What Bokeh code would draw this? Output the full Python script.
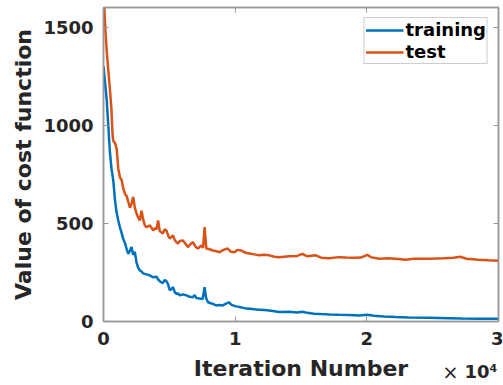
from bokeh.plotting import figure
from bokeh.models import Range1d, LinearAxis, FixedTicker, Title, Legend, LegendItem
from bokeh.embed import file_html
from bokeh.resources import INLINE

# ---- data ----
train_iter = [0, 242, 380, 490, 605, 740, 870, 985, 1120, 1250, 1380, 1500, 1630, 1755, 1880,
              2005, 2130, 2255, 2380, 2510, 2630, 2760, 2890, 3010, 3270, 3520, 3770, 4025, 4145,
              4275, 4500, 4650, 4780, 4900, 5030, 5160, 5280, 5410, 5540, 5660, 5790, 6040, 6290,
              6540, 6790, 6920, 7050, 7300, 7530, 7680, 7790, 7930, 8210, 8560, 8810, 9060, 9270,
              9520, 9720, 10080, 10330, 10700, 11080, 11460, 11830, 12210, 12590, 12970, 13350,
              14110, 14710, 15110, 15470, 16000, 16530, 17130, 17880, 18640, 19400, 20030, 20540,
              21290, 22180, 23180, 24700, 26210, 27220, 28480, 30000]
train_cost = [1300, 1130, 980, 860, 780, 720, 620, 560, 515, 480, 450, 420, 400, 370, 345,
              360, 380, 340, 355, 300, 275, 260, 255, 245, 240, 235, 225, 228, 215,
              205, 195, 212, 205, 190, 160, 165, 175, 150, 140, 143, 133, 138, 133,
              126, 124, 135, 120, 117, 115, 175, 120, 98, 92, 82, 84, 82, 90,
              98, 85, 77, 74, 68, 65, 62, 60, 58, 56, 52, 48,
              50, 46, 50, 44, 40, 38, 36, 34, 33, 31, 34, 29,
              26, 23, 21, 19, 17, 15, 14, 14]

test_iter = [0, 75, 150, 242, 365, 490, 605, 680, 740, 870, 1000, 1120, 1250, 1380, 1500,
             1630, 1755, 1880, 2005, 2130, 2255, 2380, 2510, 2630, 2760, 2890, 3010, 3140, 3270,
             3520, 3770, 3900, 4025, 4145, 4275, 4520, 4650, 4780, 4900, 5030, 5160, 5280, 5410,
             5540, 5660, 5790, 6040, 6240, 6410, 6620, 6790, 7000, 7170, 7430, 7560, 7680, 7810,
             8060, 8310, 8590, 8810, 9110, 9440, 9680, 9950, 10170, 10450, 10780, 11080, 11460,
             11830, 12210, 12590, 12970, 13350, 14110, 14710, 15110, 15470, 16130, 16530, 17130,
             17880, 18400, 19020, 19550, 20030, 20310, 20920, 21670, 22430, 22930, 23560, 24700,
             25830, 26590, 27090, 27570, 28480, 29240, 30000]
test_cost = [1700, 1580, 1480, 1380, 1280, 1180, 1080, 960, 920, 910, 880, 780, 735, 720, 680,
             650, 640, 610, 580, 600, 635, 580, 550, 530, 515, 565, 520, 490, 480,
             490, 464, 475, 470, 515, 460, 449, 470, 464, 440, 423, 430, 439, 415,
             404, 398, 410, 413, 395, 379, 395, 404, 380, 372, 388, 375, 481, 372,
             368, 362, 358, 353, 365, 372, 355, 353, 365, 362, 350, 347, 342,
             337, 340, 337, 330, 328, 332, 334, 345, 332, 337, 325, 322,
             328, 326, 325, 326, 340, 328, 320, 322, 318, 315, 320, 320,
             322, 325, 330, 320, 315, 312, 310]

x_ticks = [0, 10000, 20000, 30000]
x_tick_labels = ["0", "1", "2", "3"]
y_ticks = [0, 500, 1000, 1500]

BLUE = "#0072BD"
ORANGE = "#D95319"
AXIS_GRAY = "#999999"
TEXT = "#262626"
FONT = "DejaVu Sans"

p = figure(width=503, height=385, output_backend="svg", toolbar_location=None,
           x_range=Range1d(0, 30000), y_range=Range1d(0, 1600),
           min_border_left=103, min_border_right=5, min_border_top=7, min_border_bottom=64)
p.background_fill_color = "white"
p.border_fill_color = "white"
p.outline_line_color = AXIS_GRAY
p.outline_line_width = 1.5
p.xgrid.visible = False
p.ygrid.visible = False

r_train = p.line(train_iter, train_cost, line_color=BLUE, line_width=2.5)
r_test = p.line(test_iter, test_cost, line_color=ORANGE, line_width=2.5)


def style_axis(ax, ticks, labels=True):
    ax.ticker = FixedTicker(ticks=ticks)
    ax.axis_line_color = AXIS_GRAY
    ax.axis_line_width = 1.5
    ax.major_tick_line_color = AXIS_GRAY
    ax.major_tick_in = 5
    ax.major_tick_out = 0
    ax.minor_tick_line_color = None
    ax.major_label_text_font = FONT
    ax.major_label_text_font_style = "bold"
    ax.major_label_text_font_size = "18px"
    ax.major_label_text_color = TEXT
    ax.axis_label_text_font = FONT
    ax.axis_label_text_font_style = "bold"
    ax.axis_label_text_font_size = "22px"
    ax.axis_label_text_color = TEXT
    if not labels:
        ax.major_label_text_font_size = "1px"
        ax.major_label_text_color = None
        ax.major_label_standoff = 0


xa = p.xaxis[0]
style_axis(xa, x_ticks)
xa.major_label_overrides = {t: s for t, s in zip(x_ticks, x_tick_labels)}
xa.axis_label = "Iteration Number"
xa.major_label_standoff = 10
xa.axis_label_standoff = 8

ya = p.yaxis[0]
style_axis(ya, y_ticks)
ya.axis_label = "Value of cost function"
ya.major_label_standoff = 10
ya.axis_label_standoff = 4

top_ax = LinearAxis()
style_axis(top_ax, x_ticks, labels=False)
p.add_layout(top_ax, "above")
right_ax = LinearAxis()
style_axis(right_ax, y_ticks, labels=False)
p.add_layout(right_ax, "right")

# exponent "×10⁴" below the x axis, pulled up beside the axis label
t_exp = Title(text="10⁴", align="right", vertical_align="top", offset=1, standoff=-46,
              text_font=FONT, text_font_style="bold", text_font_size="18px",
              text_color=TEXT)
t_times = Title(text="×", align="right", vertical_align="top", offset=40, standoff=-46,
                text_font=FONT, text_font_style="normal", text_font_size="19px",
                text_color=TEXT)
p.add_layout(t_exp, "below")
p.add_layout(t_times, "below")

legend = Legend(items=[LegendItem(label="training", renderers=[r_train]),
                       LegendItem(label="test", renderers=[r_test])],
                location="top_right")
legend.label_text_font = FONT
legend.label_text_font_style = "bold"
legend.label_text_font_size = "18px"
legend.label_text_color = "black"
legend.border_line_color = AXIS_GRAY
legend.border_line_width = 1
legend.background_fill_color = "white"
legend.background_fill_alpha = 1
legend.glyph_width = 38
legend.glyph_height = 20
legend.label_height = 20
legend.label_standoff = 2
legend.padding = 1
legend.spacing = 1
legend.margin = 10
p.add_layout(legend)

open("out.html", "w").write(file_html(p, INLINE))
